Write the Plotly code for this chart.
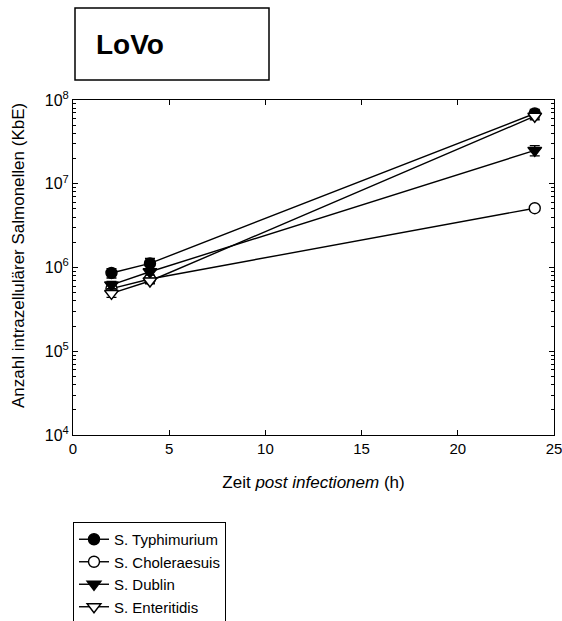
import plotly.graph_objects as go

time_h = [2, 4, 24]
series_names = ["S. Typhimurium", "S. Choleraesuis", "S. Dublin", "S. Enteritidis"]
typhimurium = [8.6e5, 1.12e6, 6.9e7]
choleraesuis = [5.6e5, 7.3e5, 5.1e6]
dublin = [6.2e5, 8.9e5, 2.5e7]
enteritidis = [4.9e5, 6.9e5, 6.4e7]
typhimurium_err = [1.1e5, 1.6e5, 8e6]
choleraesuis_err = [4e4, 5e4, 3e5]
dublin_err = [6e4, 8e4, 3.5e6]
enteritidis_err = [5e4, 5e4, 6e6]

values = [typhimurium, choleraesuis, dublin, enteritidis]
errors = [typhimurium_err, choleraesuis_err, dublin_err, enteritidis_err]
symbols = ["circle", "circle", "triangle-down", "triangle-down"]
fills = ["black", "white", "black", "white"]
sizes = [11, 11, 12, 12]

x_tickvals = [0, 5, 10, 15, 20, 25]
y_tickvals = [1e4, 1e5, 1e6, 1e7, 1e8]
y_ticktext = ["10<sup>4</sup>", "10<sup>5</sup>", "10<sup>6</sup>", "10<sup>7</sup>", "10<sup>8</sup>"]
y_minor = [k * 10 ** e for e in range(4, 8) for k in range(2, 10)]

fig = go.Figure()
for name, v, e, s, f, sz in zip(series_names, values, errors, symbols, fills, sizes):
    fig.add_trace(go.Scatter(
        x=time_h, y=v, name=name, mode="lines+markers",
        line=dict(color="black", width=1.4),
        marker=dict(symbol=s, size=sz, color=f, line=dict(color="black", width=1.4)),
        error_y=dict(type="data", array=e, color="black", thickness=1.4, width=5),
    ))

font_fam = "Arial, Liberation Sans, sans-serif"
fig.update_layout(
    width=562, height=621,
    margin=dict(l=73, r=8, t=100, b=186, autoexpand=False),
    paper_bgcolor="white", plot_bgcolor="white",
    font=dict(family=font_fam, color="black", size=14),
    showlegend=True,
    legend=dict(x=0.0, xanchor="left", y=(435 - 522) / 335, yanchor="top",
                bordercolor="black", borderwidth=1, bgcolor="white",
                font=dict(size=15, family=font_fam), tracegroupgap=0,
                itemwidth=30),
    xaxis=dict(range=[0, 25], tickvals=x_tickvals, automargin=False,
               ticklabeloverflow="allow",
               ticks="inside", ticklen=5, tickcolor="black",
               showline=True, linecolor="black", linewidth=1, mirror="ticks",
               showgrid=False, zeroline=False,
               tickfont=dict(size=15, family=font_fam),
               title=dict(text="Zeit <i>post infectionem</i> (h)", font=dict(size=17), standoff=20)),
    yaxis=dict(type="log", range=[4, 8], tickvals=y_tickvals, ticktext=y_ticktext, automargin=False,
               ticks="inside", ticklen=5, tickcolor="black",
               showline=True, linecolor="black", linewidth=1, mirror="ticks",
               showgrid=False, zeroline=False,
               minor=dict(ticks="inside", ticklen=3, tickcolor="black", tickvals=y_minor, showgrid=False),
               tickfont=dict(size=16, family=font_fam)),
)

fig.add_annotation(text="Anzahl intrazellulärer Salmonellen (KbE)", xref="paper", yref="paper",
                   x=(18 - 73) / 481, y=(435 - 256) / 335, xanchor="center", yanchor="middle",
                   textangle=-90, showarrow=False, font=dict(size=17, family=font_fam))

fig.add_shape(type="rect", xref="paper", yref="paper",
              x0=(75 - 73) / 481, x1=(269 - 73) / 481,
              y0=(435 - 80) / 335, y1=(435 - 8) / 335,
              line=dict(color="black", width=1.5), fillcolor="white")
fig.add_annotation(text="<b>LoVo</b>", xref="paper", yref="paper",
                   x=(94 - 73) / 481, y=(435 - 45) / 335, xanchor="left", yanchor="middle",
                   showarrow=False, font=dict(size=28, family=font_fam))

fig.write_html("out.html")
